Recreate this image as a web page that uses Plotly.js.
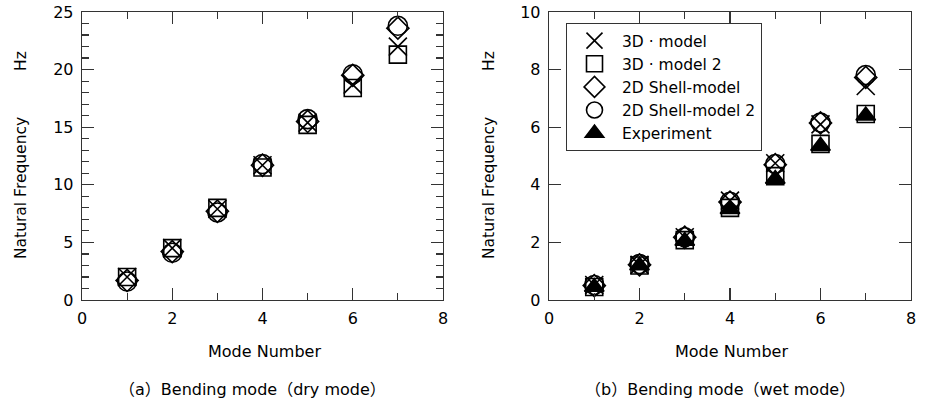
<!DOCTYPE html>
<html>
<head>
<meta charset="utf-8">
<script src="https://cdn.plot.ly/plotly-3.0.1.min.js"></script>
<style>html,body{margin:0;padding:0;background:#fff;}#chart{width:927px;height:405px;}</style>
</head>
<body>
<div id="chart"></div>
<script>
// Mode numbers
const modes = [1, 2, 3, 4, 5, 6, 7];

// (a) dry mode, Hz
const dry3D      = [2.0, 4.5, 7.9, 11.7, 15.4, 18.7, 22.0];
const dry3D2     = [2.0, 4.5, 8.0, 11.5, 15.2, 18.4, 21.3];
const dryShell   = [1.7, 4.2, 7.7, 11.7, 15.5, 19.5, 23.6];
const dryShell2  = [1.6, 4.1, 7.6, 11.8, 15.7, 19.6, 23.8];

// (b) wet mode, Hz
const wet3D      = [0.52, 1.22, 2.18, 3.45, 4.75, 6.10, 7.43];
const wet3D2     = [0.45, 1.20, 2.08, 3.20, 4.30, 5.42, 6.46];
const wetShell   = [0.50, 1.22, 2.18, 3.40, 4.70, 6.15, 7.73];
const wetShell2  = [0.52, 1.25, 2.18, 3.41, 4.72, 6.16, 7.81];
const wetExp     = [0.45, 1.20, 2.05, 3.15, 4.20, 5.35, 6.40];

const legendNames = ['3D \u00b7 model', '3D \u00b7 model 2', '2D Shell-model', '2D Shell-model 2', 'Experiment'];

const symbols = ['x-thin-open', 'square-open', 'diamond-open', 'circle-open', 'triangle-up'];
const sizes = [18, 17, 17, 19, 17];

function mk(y, i, xa, ya, showLegend) {
  return {
    x: modes, y: y, type: 'scatter', mode: 'markers',
    name: legendNames[i], xaxis: xa, yaxis: ya, showlegend: showLegend,
    marker: {
      symbol: symbols[i], size: sizes[i], color: '#000',
      line: {color: '#000', width: 1.6}
    }
  };
}

const data = [
  mk(dry3D, 0, 'x', 'y', false),
  mk(dry3D2, 1, 'x', 'y', false),
  mk(dryShell, 2, 'x', 'y', false),
  mk(dryShell2, 3, 'x', 'y', false),
  mk(wet3D, 0, 'x2', 'y2', true),
  mk(wet3D2, 1, 'x2', 'y2', true),
  mk(wetShell, 2, 'x2', 'y2', true),
  mk(wetShell2, 3, 'x2', 'y2', true),
  mk(wetExp, 4, 'x2', 'y2', true)
];

const fam = 'DejaVu Sans, Liberation Sans, sans-serif';
const font = {family: fam, color: '#000'};
const frameColor = '#333';

function xaxisDef(domain, anchor) {
  return {
    domain: domain, anchor: anchor, range: [0, 8], dtick: 2, tick0: 0,
    showgrid: false, zeroline: false, showline: true, linecolor: frameColor, linewidth: 1.3,
    mirror: 'allticks', ticks: 'inside', ticklen: 12, tickwidth: 1.2, tickcolor: frameColor,
    tickfont: {family: fam, size: 16, color: '#000'}, ticklabelstandoff: 3,
    minor: {dtick: 1, ticks: 'inside', ticklen: 7, tickwidth: 1.2, tickcolor: frameColor},
    fixedrange: true
  };
}
function yaxisDef(anchor, range, dtick, minorDtick) {
  const a = {
    anchor: anchor, range: range, dtick: dtick, tick0: 0, domain: [0, 1],
    showgrid: false, zeroline: false, showline: true, linecolor: frameColor, linewidth: 1.3,
    mirror: 'allticks', ticks: 'inside', ticklen: 12, tickwidth: 1.2, tickcolor: frameColor,
    tickfont: {family: fam, size: 16, color: '#000'}, ticklabelstandoff: 4,
    fixedrange: true
  };
  if (minorDtick) a.minor = {dtick: minorDtick, ticks: 'inside', ticklen: 7, tickwidth: 1.2, tickcolor: frameColor};
  return a;
}

const annFont = {family: fam, size: 16, color: '#000'};
const yTitleFont = {family: fam, size: 15.5, color: '#000'};
const subFont = {family: 'DejaVu Sans, Noto Sans CJK SC, sans-serif', size: 16, color: '#000'};
const layout = {
  width: 927, height: 405,
  margin: {l: 0, r: 0, t: 12, b: 105},
  paper_bgcolor: '#fff', plot_bgcolor: '#fff',
  font: font,
  showlegend: true,
  legend: {
    x: 566/927, y: (300-23)/288, xanchor: 'left', yanchor: 'top',
    bgcolor: '#fff', bordercolor: '#333', borderwidth: 1,
    font: {family: fam, size: 15.5, color: '#000'},
    tracegroupgap: 0, itemwidth: 45
  },
  xaxis: xaxisDef([82/927, 443/927], 'y'),
  yaxis: yaxisDef('x', [0, 25], 5, 1),
  xaxis2: xaxisDef([549/927, 911/927], 'y2'),
  yaxis2: yaxisDef('x2', [0, 10], 2, null),
  annotations: [
    {xref: 'paper', yref: 'paper', x: 264/927, y: (300-351)/288, text: 'Mode Number', showarrow: false, font: annFont, xanchor: 'center', yanchor: 'middle'},
    {xref: 'paper', yref: 'paper', x: 731/927, y: (300-351)/288, text: 'Mode Number', showarrow: false, font: annFont, xanchor: 'center', yanchor: 'middle'},
    {xref: 'paper', yref: 'paper', x: 117/927, y: (300-389)/288, text: '\uff08a\uff09Bending mode\uff08dry mode\uff09', showarrow: false, font: subFont, xanchor: 'left', yanchor: 'middle'},
    {xref: 'paper', yref: 'paper', x: 583/927, y: (300-389)/288, text: '\uff08b\uff09Bending mode\uff08wet mode\uff09', showarrow: false, font: subFont, xanchor: 'left', yanchor: 'middle'},
    {xref: 'paper', yref: 'paper', x: 21/927, y: (300-61)/288, text: 'Hz', textangle: -90, showarrow: false, font: yTitleFont, xanchor: 'center', yanchor: 'middle'},
    {xref: 'paper', yref: 'paper', x: 21/927, y: (300-188)/288, text: 'Natural Frequency', textangle: -90, showarrow: false, font: yTitleFont, xanchor: 'center', yanchor: 'middle'},
    {xref: 'paper', yref: 'paper', x: 489/927, y: (300-61)/288, text: 'Hz', textangle: -90, showarrow: false, font: yTitleFont, xanchor: 'center', yanchor: 'middle'},
    {xref: 'paper', yref: 'paper', x: 489/927, y: (300-188)/288, text: 'Natural Frequency', textangle: -90, showarrow: false, font: yTitleFont, xanchor: 'center', yanchor: 'middle'}
  ]
};

Plotly.newPlot('chart', data, layout, {displayModeBar: false, staticPlot: true});
</script>
</body>
</html>
